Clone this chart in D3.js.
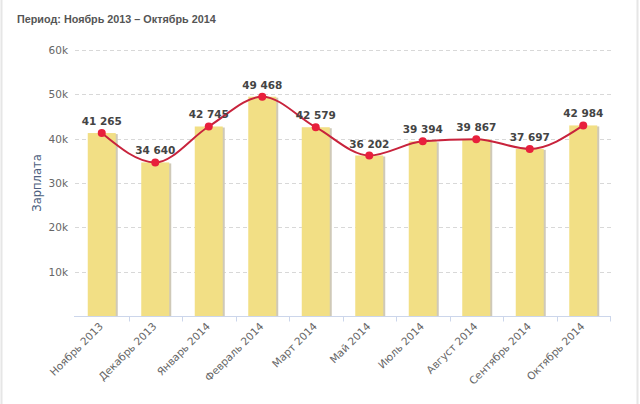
<!DOCTYPE html>
<html><head><meta charset="utf-8">
<script src="https://cdnjs.cloudflare.com/ajax/libs/d3/7.8.5/d3.min.js"></script>
<style>
html,body{margin:0;padding:0;background:#fff;}
svg{display:block;}
</style></head>
<body>
<svg id="c" width="640" height="404"></svg>
<script>
const categories = ["Ноябрь 2013","Декабрь 2013","Январь 2014","Февраль 2014","Март 2014","Май 2014","Июль 2014","Август 2014","Сентябрь 2014","Октябрь 2014"];
const salaries = [41265,34640,42745,49468,42579,36202,39394,39867,37697,42984];
const yTicks = [0,10000,20000,30000,40000,50000,60000];
const yTickLabels = ["","10k","20k","30k","40k","50k","60k"];
const titleText = "Период: Ноябрь 2013 – Октябрь 2014";
const yTitle = "Зарплата";

const svg = d3.select("#c");
const m = {l:75, r:30, t:50, b:88};
const W = 640, H = 404;
const x = d3.scaleBand().domain(categories).range([m.l, 610]).paddingInner(0).paddingOuter(0);
const y = d3.scaleLinear().domain([0,60000]).range([316, 50]);

// borders
svg.append("line").attr("x1",1.5).attr("x2",1.5).attr("y1",0).attr("y2",H).attr("stroke","#e6e6e6").attr("stroke-width",2);
svg.append("line").attr("x1",637.5).attr("x2",637.5).attr("y1",0).attr("y2",H).attr("stroke","#e6e6e6").attr("stroke-width",2);

// title
svg.append("text").attr("x",17).attr("y",23).text(titleText)
  .attr("font-family","Liberation Sans, Arial, sans-serif").attr("font-weight","bold")
  .attr("font-size",10.8).attr("fill","#555");

// grid
svg.append("g").selectAll("line").data(yTicks.filter(d=>d>0)).join("line")
  .attr("x1",m.l).attr("x2",612).attr("y1",d=>Math.round(y(d))+0.5).attr("y2",d=>Math.round(y(d))+0.5)
  .attr("stroke","#d8d8d8").attr("stroke-dasharray","4,3");

// y labels
svg.append("g").selectAll("text").data(yTicks).join("text")
  .attr("x",68).attr("y",d=>y(d)+4).attr("text-anchor","end")
  .attr("font-family","DejaVu Sans, Verdana, sans-serif").attr("font-size",10.5).attr("fill","#666")
  .text((d,i)=>yTickLabels[i]);

// y title
svg.append("text").attr("transform",`translate(41,${(y(0)+y(60000))/2}) rotate(-90)`)
  .attr("text-anchor","middle").attr("font-family","DejaVu Sans, Verdana, sans-serif").attr("font-size",11.5)
  .attr("fill","#4d5f80").text(yTitle);

// bars with shadow
const bw = 28;
const bars = svg.append("g");
bars.selectAll("rect.sh").data(salaries).join("rect").attr("class","sh")
  .attr("x",(d,i)=>x(categories[i])+x.bandwidth()/2-bw/2+2).attr("y",d=>y(d)+1)
  .attr("width",bw).attr("height",d=>y(0)-y(d)-1).attr("fill","#cfc9b8");
bars.selectAll("rect.b").data(salaries).join("rect").attr("class","b")
  .attr("x",(d,i)=>x(categories[i])+x.bandwidth()/2-bw/2).attr("y",d=>y(d))
  .attr("width",bw).attr("height",d=>y(0)-y(d)).attr("fill","#f2df85");

// x axis
const gx = svg.append("g").attr("transform","translate(0,316.5)");
gx.append("line").attr("x1",m.l-1).attr("x2",611).attr("stroke","#ccd6eb");
gx.selectAll("line.t").data(d3.range(1,categories.length+1)).join("line").attr("class","t")
  .attr("x1",i=>Math.round(m.l+i*x.bandwidth())+0.5).attr("x2",i=>Math.round(m.l+i*x.bandwidth())+0.5)
  .attr("y1",0).attr("y2",5).attr("stroke","#ccd6eb");
svg.append("g").selectAll("text").data(categories).join("text")
  .attr("transform",d=>`translate(${x(d)+x.bandwidth()/2+2},${327}) rotate(-45)`)
  .attr("text-anchor","end").attr("font-family","DejaVu Sans, Verdana, sans-serif")
  .attr("font-size",10.5).attr("fill","#666").text(d=>d);

// line
const px = (d,i)=>x(categories[i])+x.bandwidth()/2;
const line = d3.line().x(px).y(d=>y(d)).curve(d3.curveMonotoneX);
svg.append("path").datum(salaries).attr("d",line).attr("fill","none")
  .attr("stroke","#c8233c").attr("stroke-width",2);
svg.append("g").selectAll("circle").data(salaries).join("circle")
  .attr("cx",px).attr("cy",d=>y(d)).attr("r",4).attr("fill","#e8203c");

// data labels
const fmt = v => d3.format(",")(v).replace(/,/g," ");
svg.append("g").selectAll("text").data(salaries).join("text")
  .attr("x",px).attr("y",d=>y(d)-8).attr("text-anchor","middle")
  .attr("font-family","DejaVu Sans, Verdana, sans-serif").attr("font-weight","bold")
  .attr("font-size",10.5).attr("fill","#444").text(fmt);
</script>
</body></html>
